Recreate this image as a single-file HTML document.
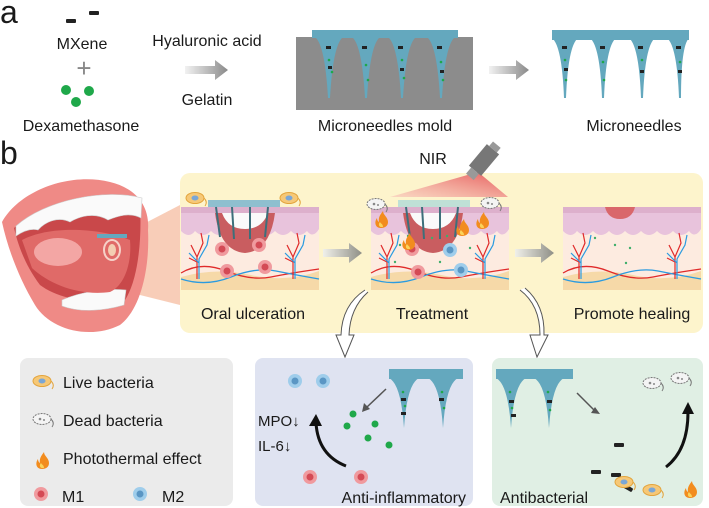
<!DOCTYPE html>
<html><head><meta charset="utf-8"><style>
html,body{margin:0;padding:0;background:#fff}
svg{display:block}
text{font-family:"Liberation Sans",Arial,sans-serif;fill:#1a1a1a}
</style></head><body>
<svg width="709" height="508" viewBox="0 0 709 508" xmlns="http://www.w3.org/2000/svg">
<defs>
<linearGradient id="ga" x1="0" x2="1"><stop offset="0" stop-color="#f2f2f2"/><stop offset="1" stop-color="#8a8a8a"/></linearGradient>
<linearGradient id="gb" x1="0" x2="1"><stop offset="0" stop-color="#f0f0ea"/><stop offset="1" stop-color="#8f8f86"/></linearGradient>
<linearGradient id="beam" x1="1" y1="0" x2="0" y2="1"><stop offset="0" stop-color="#e65a5a"/><stop offset="1" stop-color="#f7c2b8" stop-opacity="0.6"/></linearGradient>
<g id="skin">
<rect x="0" y="0" width="138" height="83" fill="#fdebe0"/>
<path d="M0 0H138V22 q-6 10 -12 2 q-8 8 -16 0 q-8 8 -16 0 q-8 8 -16 0 q-8 8 -16 0 q-8 8 -16 0 q-8 8 -16 0 q-8 8 -16 0 q-6 8 -14 0Z" fill="#e8c3dc"/>
<rect x="0" y="0" width="138" height="6" fill="#ddb0cc"/>
<path d="M0 70 q35 -10 70 -2 t68 -4 V83H0Z" fill="#f6d9a8"/>
<path d="M0 66 q20 -12 45 -2 t45 6 t48 -8" stroke="#e02a2a" stroke-width="1.3" fill="none"/>
<path d="M0 72 q25 8 50 -2 t45 -6 t43 8" stroke="#2b9be0" stroke-width="1.3" fill="none"/>
<path d="M16 72 V50 l-6 -12 M16 50 l6 -14 l-2 -10 M16 55 l-8 -4" stroke="#e02a2a" stroke-width="1.2" fill="none"/>
<path d="M18 72 V52 l8 -14 l2 -10 M18 56 l-10 -10" stroke="#2b9be0" stroke-width="1.2" fill="none"/>
<path d="M112 72 V50 l-6 -12 M112 50 l6 -14 l-2 -10 M112 55 l-8 -4" stroke="#e02a2a" stroke-width="1.2" fill="none"/>
<path d="M114 72 V52 l8 -14 l2 -10 M114 56 l-10 -10" stroke="#2b9be0" stroke-width="1.2" fill="none"/>
</g>
<g id="cellr"><circle r="7" fill="#f09a9e"/><circle r="3.5" fill="#d44a55"/></g>
<g id="cellb"><circle r="7" fill="#9fcdeb"/><circle r="3.5" fill="#5a96c4"/></g>
<g id="live"><ellipse rx="9" ry="5.5" fill="#f6c877" stroke="#e3a43c"/><ellipse rx="3.5" ry="2.5" fill="#7aa6d6"/><path d="M9 0 q4 4 1 8" stroke="#e3a43c" fill="none"/></g>
<g id="dead"><ellipse rx="9" ry="5.5" fill="#f4f4f4" stroke="#777" stroke-dasharray="2 1"/><circle cx="-2" cy="0" r="1.3" fill="#888"/><circle cx="2" cy="1" r="1" fill="#888"/><path d="M9 0 q4 4 1 8" stroke="#777" fill="none"/></g>
<g id="fire"><path d="M0 8 c-6 0 -7 -6 -4 -10 c0 3 2 4 2 4 c-1 -5 2 -8 4 -11 c0 4 5 6 5 11 c0 4 -3 6 -7 6z" fill="#f28c1e"/><path d="M0 7 c-2 0 -3 -3 -1 -5 c1 2 3 2 3 5z" fill="#fbd35a"/></g>
<g id="flake"><rect x="-5" y="-2" width="10" height="4" rx="1" fill="#222"/></g>
</defs>

<!-- Panel a -->
<text x="0" y="23" font-size="32">a</text>
<use href="#flake" x="71" y="21"/><use href="#flake" x="94" y="13"/>
<text x="82" y="49" font-size="16" text-anchor="middle">MXene</text>
<text x="84" y="77" font-size="26" text-anchor="middle" style="fill:#888">+</text>
<circle cx="66" cy="90" r="5" fill="#1fa84a"/><circle cx="89" cy="91" r="5" fill="#1fa84a"/><circle cx="76" cy="102" r="5" fill="#1fa84a"/>
<text x="81" y="131" font-size="16" text-anchor="middle">Dexamethasone</text>
<text x="207" y="46" font-size="16" text-anchor="middle">Hyaluronic acid</text>
<path d="M185 66 h30 v-6 l13 10 l-13 10 v-6 h-30z" fill="url(#ga)"/>
<text x="207" y="105" font-size="16" text-anchor="middle">Gelatin</text>

<rect x="296" y="37" width="177" height="73" fill="#8c8c8c"/>
<rect x="312" y="30" width="146" height="8" fill="#64a8be"/>
<g fill="#64a8be">
<path d="M315 37 h28 q-10 8 -13 61 h-2 q-3 -53 -13 -61z"/>
<path d="M352 37 h28 q-10 8 -13 61 h-2 q-3 -53 -13 -61z"/>
<path d="M388 37 h28 q-10 8 -13 61 h-2 q-3 -53 -13 -61z"/>
<path d="M427 37 h28 q-10 8 -13 61 h-2 q-3 -53 -13 -61z"/>
</g>
<g fill="#1fa84a"><circle cx="329" cy="60" r="1.3"/><circle cx="332" cy="72" r="1.3"/><circle cx="366" cy="65" r="1.3"/><circle cx="368" cy="80" r="1.3"/><circle cx="402" cy="60" r="1.3"/><circle cx="404" cy="78" r="1.3"/><circle cx="441" cy="62" r="1.3"/><circle cx="443" cy="80" r="1.3"/></g>
<g fill="#222"><rect x="326" y="46" width="5" height="3"/><rect x="362" y="46" width="5" height="3"/><rect x="398" y="46" width="5" height="3"/><rect x="437" y="46" width="5" height="3"/><rect x="328" y="66" width="4" height="3"/><rect x="400" y="68" width="4" height="3"/><rect x="440" y="70" width="4" height="3"/></g>
<text x="385" y="131" font-size="16" text-anchor="middle">Microneedles mold</text>
<path d="M489 66 h27 v-6 l13 10 l-13 10 v-6 h-27z" fill="url(#ga)"/>

<rect x="552" y="30" width="137" height="10" fill="#64a8be"/>
<g fill="#64a8be">
<path d="M552 38 h26 q-10 8 -12 60 h-2 q-2 -52 -12 -60z"/>
<path d="M590 38 h26 q-10 8 -12 60 h-2 q-2 -52 -12 -60z"/>
<path d="M629 38 h26 q-10 8 -12 60 h-2 q-2 -52 -12 -60z"/>
<path d="M667 38 h22 q-8 8 -8 60 h-2 q-2 -52 -12 -60z"/>
</g>
<g fill="#222"><rect x="562" y="46" width="5" height="3"/><rect x="600" y="46" width="5" height="3"/><rect x="638" y="46" width="5" height="3"/><rect x="676" y="46" width="5" height="3"/><rect x="564" y="68" width="4" height="3"/><rect x="640" y="70" width="4" height="3"/><rect x="678" y="70" width="4" height="3"/></g>
<g fill="#1fa84a"><circle cx="565" cy="60" r="1.3"/><circle cx="603" cy="62" r="1.3"/><circle cx="642" cy="60" r="1.3"/><circle cx="680" cy="62" r="1.3"/><circle cx="566" cy="80" r="1.3"/><circle cx="604" cy="80" r="1.3"/></g>
<text x="634" y="131" font-size="16" text-anchor="middle">Microneedles</text>

<!-- Panel b -->
<text x="0" y="164" font-size="32">b</text>
<rect x="180" y="173" width="523" height="160" rx="10" fill="#fdf4cc"/>
<!-- mouth -->
<path d="M128 232 L180 205 L180 305 L120 290Z" fill="#f5b89a" opacity="0.7"/>
<path d="M2 222 C20 190 70 172 110 182 C135 188 150 205 148 230 C150 270 140 310 120 325 C90 340 50 330 35 305 C20 280 8 250 2 222Z" fill="#ef8a86"/>
<path d="M14 228 C40 205 100 195 140 205 C142 240 138 280 125 300 C95 305 60 300 40 285 C25 265 18 245 14 228Z" fill="#c9484a"/>
<path d="M16 226 C45 200 105 188 142 198 L141 218 C130 212 118 216 108 220 C95 212 80 216 70 222 C58 216 45 222 38 230 C30 228 22 232 16 236Z" fill="#fafafa" stroke="#ccc" stroke-width="0.6"/>
<path d="M62 300 C80 292 105 288 126 290 L124 305 C100 312 78 312 62 306Z" fill="#fafafa" stroke="#ccc" stroke-width="0.6"/>
<path d="M22 240 C50 225 100 228 130 240 C132 262 125 285 110 292 C80 296 50 285 32 268Z" fill="#e06a68"/>
<ellipse cx="58" cy="252" rx="24" ry="14" fill="#f3a6a4"/>
<rect x="97" y="234" width="30" height="4" fill="#64a8be"/>
<ellipse cx="112" cy="250" rx="8" ry="10" fill="none" stroke="#f6d0c8" stroke-width="2"/>
<ellipse cx="112" cy="250" rx="4" ry="6" fill="#f3cdb2"/>
<!-- skin panels -->
<use href="#skin" x="181" y="207"/>
<use href="#skin" x="371" y="207"/>
<use href="#skin" x="563" y="207"/>
<path d="M215 213 h60 q-5 38 -30 40 q-25 -2 -30 -40z" fill="#c95d60"/>
<path d="M222 213 h46 q-6 16 -23 16 q-17 0 -23 -16z" fill="#fafafa"/>
<rect x="208" y="200" width="72" height="7" fill="#8fbfcf"/>
<g stroke="#3d6f7a" stroke-width="2"><path d="M216 207 l4 30"/><path d="M232 207 l2 32"/><path d="M250 207 l0 32"/><path d="M268 207 l-3 30"/></g>
<path d="M403 213 h60 q-5 38 -30 40 q-25 -2 -30 -40z" fill="#c95d60"/>
<path d="M410 213 h46 q-6 16 -23 16 q-17 0 -23 -16z" fill="#fafafa"/>
<rect x="398" y="200" width="72" height="7" fill="#bfe0d6"/>
<g stroke="#3d6f7a" stroke-width="2"><path d="M406 207 l4 30"/><path d="M422 207 l2 32"/><path d="M440 207 l0 32"/><path d="M458 207 l-3 30"/></g>
<path d="M605 207 h30 q-3 12 -15 12 q-12 0 -15 -12z" fill="#d9676b"/>
<use href="#cellr" x="222" y="249"/><use href="#cellr" x="259" y="245"/><use href="#cellr" x="227" y="271"/><use href="#cellr" x="265" y="267"/>
<use href="#cellr" x="412" y="249"/><use href="#cellb" x="450" y="250"/><use href="#cellr" x="418" y="272"/><use href="#cellb" x="461" y="270"/>
<g fill="#3fae6a"><circle cx="400" cy="245" r="1.2"/><circle cx="408" cy="236" r="1.2"/><circle cx="432" cy="238" r="1.2"/><circle cx="440" cy="262" r="1.2"/><circle cx="395" cy="262" r="1.2"/><circle cx="447" cy="236" r="1.2"/><circle cx="470" cy="248" r="1.2"/><circle cx="595" cy="238" r="1.2"/><circle cx="615" cy="245" r="1.2"/><circle cx="630" cy="248" r="1.2"/><circle cx="626" cy="263" r="1.2"/></g>
<use href="#live" x="195" y="198"/><use href="#live" x="289" y="198"/>
<use href="#dead" x="376" y="204"/><use href="#dead" x="490" y="203"/>
<use href="#fire" x="381" y="220"/><use href="#fire" x="482" y="221"/><use href="#fire" x="462" y="228"/><use href="#fire" x="408" y="242"/>
<!-- NIR -->
<path d="M478 172 L390 197 L508 197Z" fill="url(#beam)"/>
<g transform="translate(484 160) rotate(-50)"><rect x="-14" y="-8" width="28" height="16" fill="#777"/><rect x="-22" y="-5" width="8" height="10" fill="#999"/><rect x="14" y="-5" width="6" height="10" fill="#999"/></g>
<text x="433" y="164" font-size="16" text-anchor="middle">NIR</text>
<path d="M323 249 h26 v-6 l13 10 l-13 10 v-6 h-26z" fill="url(#gb)"/>
<path d="M515 249 h26 v-6 l13 10 l-13 10 v-6 h-26z" fill="url(#gb)"/>
<text x="253" y="319" font-size="16" text-anchor="middle">Oral ulceration</text>
<text x="432" y="319" font-size="16" text-anchor="middle">Treatment</text>
<text x="632" y="319" font-size="16" text-anchor="middle">Promote healing</text>
<!-- hollow arrows -->
<path d="M365 290 Q342 305 341 335 L336 335 L345 357 L354 335 L349 335 Q350 308 368 292" fill="#fff" stroke="#555" stroke-width="1"/>
<path d="M520 290 Q540 305 540 335 L530 335 L537 357 L548 335 L544 335 Q545 305 525 288" fill="#fff" stroke="#555" stroke-width="1"/>

<!-- bottom boxes -->
<rect x="20" y="358" width="213" height="148" rx="8" fill="#ebebeb"/>
<use href="#live" x="42" y="381"/><text x="63" y="388" font-size="16">Live bacteria</text>
<use href="#dead" x="42" y="419"/><text x="63" y="426" font-size="16">Dead bacteria</text>
<use href="#fire" x="42" y="461"/><text x="63" y="464" font-size="16">Photothermal effect</text>
<use href="#cellr" x="41" y="494"/><text x="62" y="502" font-size="16">M1</text>
<use href="#cellb" x="140" y="494"/><text x="162" y="502" font-size="16">M2</text>

<rect x="255" y="358" width="218" height="148" rx="8" fill="#dfe3f1"/>
<rect x="389" y="369" width="74" height="10" fill="#64a8be"/>
<path d="M389 378 h30 q-12 6 -15 50 q-3 -44 -15 -50z M428 378 h30 q-12 6 -15 50 q-3 -44 -15 -50z" fill="#64a8be"/>
<g fill="#222"><rect x="401" y="398" width="5" height="3"/><rect x="439" y="398" width="5" height="3"/><rect x="401" y="412" width="5" height="3"/></g>
<g fill="#1fa84a"><circle cx="403" cy="392" r="1.3"/><circle cx="442" cy="392" r="1.3"/><circle cx="405" cy="406" r="1.3"/><circle cx="444" cy="408" r="1.3"/></g>
<path d="M386 389 L367 407" stroke="#555" stroke-width="1.5"/><path d="M362 412 l2 -9 l6 6z" fill="#555"/>
<use href="#cellb" x="295" y="381"/><use href="#cellb" x="323" y="381"/>
<use href="#cellr" x="310" y="477"/><use href="#cellr" x="361" y="477"/>
<g fill="#1fa84a"><circle cx="353" cy="414" r="3.5"/><circle cx="347" cy="426" r="3.5"/><circle cx="375" cy="424" r="3.5"/><circle cx="368" cy="438" r="3.5"/><circle cx="389" cy="445" r="3.5"/></g>
<text x="258" y="426" font-size="15">MPO↓</text>
<text x="258" y="451" font-size="15">IL-6↓</text>
<path d="M346 466 Q318 455 316 423" stroke="#111" stroke-width="3" fill="none"/><path d="M309 426 l7 -12 l6 12z" fill="#111"/>
<text x="466" y="503" font-size="16" text-anchor="end">Anti-inflammatory</text>

<rect x="492" y="358" width="211" height="148" rx="8" fill="#e0efe4"/>
<rect x="496" y="369" width="77" height="10" fill="#64a8be"/>
<path d="M496 378 h30 q-12 6 -15 50 q-3 -44 -15 -50z M534 378 h30 q-12 6 -15 50 q-3 -44 -15 -50z" fill="#64a8be"/>
<g fill="#222"><rect x="509" y="400" width="5" height="3"/><rect x="547" y="400" width="5" height="3"/><rect x="511" y="414" width="5" height="3"/></g>
<g fill="#1fa84a"><circle cx="510" cy="392" r="1.3"/><circle cx="548" cy="392" r="1.3"/><circle cx="512" cy="408" r="1.3"/><circle cx="550" cy="410" r="1.3"/></g>
<path d="M577 393 L594 410" stroke="#555" stroke-width="1.5"/><path d="M600 414 l-9 -1 l4 -6z" fill="#555"/>
<use href="#flake" x="619" y="445"/><use href="#flake" x="596" y="472"/><use href="#flake" x="616" y="475"/><g transform="translate(628 488) rotate(30)"><use href="#flake"/></g>
<use href="#dead" x="652" y="383"/><use href="#dead" x="680" y="378"/>
<use href="#live" x="624" y="482"/><use href="#live" x="652" y="490"/>
<path d="M666 467 Q688 450 688 412" stroke="#111" stroke-width="3" fill="none"/><path d="M682 414 l6 -12 l6 12z" fill="#111"/>
<use href="#fire" x="690" y="490"/>
<text x="500" y="503" font-size="16">Antibacterial</text>
</svg>
</body></html>
